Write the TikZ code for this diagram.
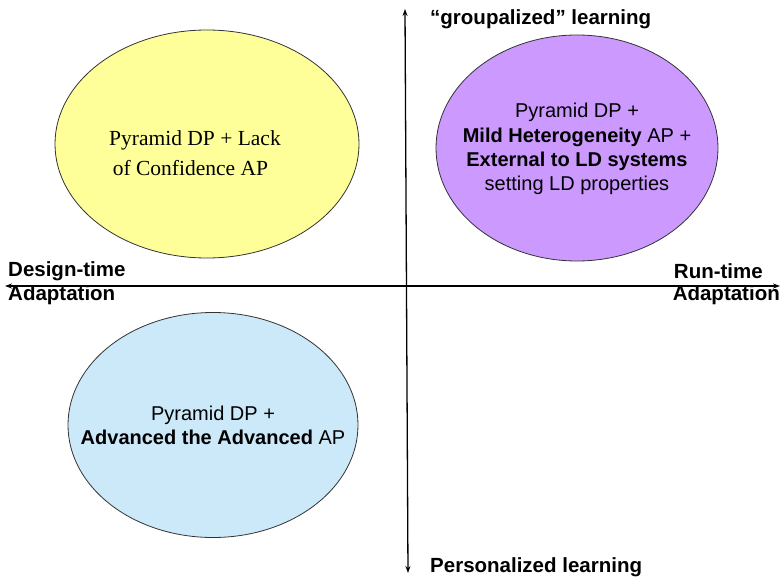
\documentclass[tikz,border=0pt]{standalone}
\usepackage{fontspec}
\setmainfont{Liberation Sans}
\newfontfamily\serifface{Liberation Serif}
\usetikzlibrary{shapes.geometric,arrows.meta}
\definecolor{yell}{HTML}{FFFF99}
\definecolor{purp}{HTML}{CC99FF}
\definecolor{lblue}{HTML}{CCE9FA}
\begin{document}
\begin{tikzpicture}[x=1pt,y=-1pt,
  oval/.style={ellipse,draw=black!80,line width=0.8pt,inner sep=0pt},
  txt/.style={inner sep=0pt,align=center},
  axis/.style={line width=1.3pt,{Stealth[length=7pt,width=5pt]}-{Stealth[length=7pt,width=5pt]}},
  lab/.style={font=\bfseries\fontsize{20.5}{24}\selectfont,inner sep=0pt}]
\useasboundingbox (0,0) rectangle (782,580);
\fill[white] (0,0) rectangle (782,580);
% axes
\coordinate (L) at (5,286);
\coordinate (R) at (780,286);
\coordinate (T) at (405,9);
\coordinate (B) at (408,573);
\draw[axis] (L) -- (R);
\draw[axis] (T) -- (B);
% ellipses
\node[oval,fill=yell,minimum width=304pt,minimum height=228pt] (Y) at (207,144) {};
\node[txt,font=\serifface\fontsize{21.5}{30}\selectfont,align=left] (Yt) at (195,153)
  {Pyramid DP + Lack\\ \,of Confidence AP};
\node[oval,fill=purp,minimum width=282pt,minimum height=226pt] (P) at (577,148) {};
\node[txt,font=\fontsize{20}{24.3}\selectfont] (Pt) at (577,149)
  {Pyramid DP +\\ \textbf{Mild Heterogeneity} AP +\\ \textbf{External to LD systems}\\ setting LD properties};
\node[oval,fill=lblue,minimum width=290pt,minimum height=225pt] (Bl) at (213,425) {};
\node[txt,font=\fontsize{20}{24}\selectfont] (Bt) at (213,425)
  {Pyramid DP +\\ \textbf{Advanced the Advanced} AP};
% axis labels
\node[lab,anchor=west] (dt1) at (8,271) {Design-time};
\node[lab,anchor=west] (dt2) at (8,295) {Adaptation};
\node[lab,anchor=east] (rt1) at (763,271) {Run-time};
\node[lab,anchor=east] (rt2) at (780,295) {Adaptation};
\node[lab,anchor=west] (gl) at (430,19) {“groupalized” learning};
\node[lab,anchor=west] (pl) at (430,567) {Personalized learning};
\end{tikzpicture}
\end{document}
